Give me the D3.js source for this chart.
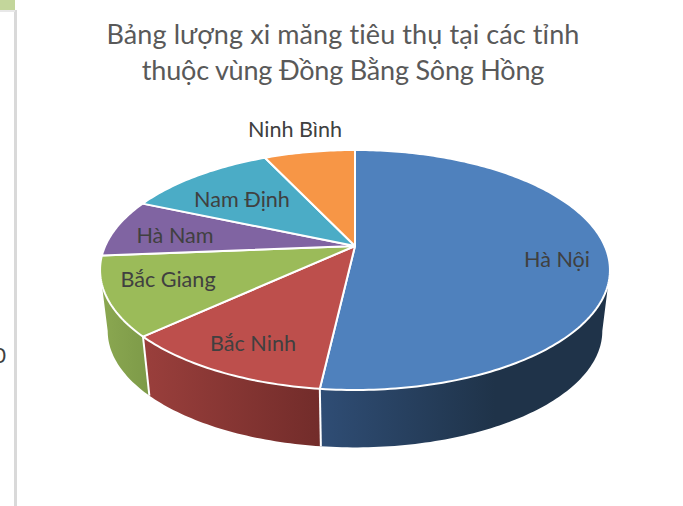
<!DOCTYPE html>
<html lang="vi"><head><meta charset="utf-8">
<script src="https://cdn.jsdelivr.net/npm/d3@7"></script>
<style>html,body{margin:0;padding:0;background:#fff;overflow:hidden}svg{display:block}text{font-family:Lato,"Open Sans","Noto Sans",sans-serif}</style>
</head><body><svg id="c" width="683" height="506"></svg>
<script>
const titleLines = ["Bảng lượng xi măng tiêu thụ tại các tỉnh","thuộc vùng Đồng Bằng Sông Hồng"];
const categories = ["Hà Nội","Bắc Ninh","Bắc Giang","Hà Nam","Nam Định","Ninh Bình"];
const values = [51.8,11.3,10.6,7.8,11.5,7.0];
const topColors = ["#4f81bd","#bd4f4c","#9bbb59","#8064a2","#4bacc6","#f79646"];
const sideFrom = ["#2f4d75","#9a3f3c","#8ba851","#6a5287","#3d8ca2","#c97a39"];
const sideTo = ["#1f3349","#722c2a","#7d9a48","#5a4674","#347a8e","#b06a30"];
const labelSpots = [[557,260],[253,344],[168,280],[175,236],[242,200],[295,130]];
const titleTracking = [0.1,-0.2];

const svg = d3.select("#c");
const cx=355, apexY=246, k=0.2, A=249.8, B=115.2, rimY=270, baseY=331, shrink=0.97;
const sx=d3.scaleLinear().domain([-1,1]).range([cx-A,cx+A]);
const sy=d3.scaleLinear().domain([-1,1]).range([apexY+B,apexY-B]);
// perspective projection of a point on the unit disc
function proj(a,r=1){const u=Math.sin(a)*r,v=Math.cos(a)*r,w=1+k*v;return [sx(u/w),sy(v/w)];}
function base(a){const p=proj(a);return [cx+shrink*(p[0]-cx),baseY+shrink*(p[1]-rimY)];}
const line=d3.line();
const arcs=d3.pie().sort(null).value(d=>d)(values);
const step=Math.PI/180;
function samples(a0,a1){const n=Math.max(2,Math.ceil((a1-a0)/step));return d3.range(n+1).map(i=>a0+(a1-a0)*i/n);}

// surrounding page fragments
svg.append("rect").attr("x",0).attr("y",0).attr("width",15).attr("height",10).attr("fill","#c3d69b");
svg.append("rect").attr("x",14).attr("y",10).attr("width",3).attr("height",496).attr("fill","#d9d9d9");
svg.append("rect").attr("x",0).attr("y",10).attr("width",15).attr("height",2).attr("fill","#e8e8e8");
svg.append("text").attr("x",6).attr("y",363).attr("text-anchor","end").attr("font-size",21.6).attr("fill","#404040").text("0");

// side wall
const defs=svg.append("defs");
const visMin=Math.acos(-k), visMax=2*Math.PI-Math.acos(-k);
arcs.forEach((d,i)=>{
  const a0=Math.max(d.startAngle,visMin),a1=Math.min(d.endAngle,visMax);
  if(a1<=a0) return;
  const pTop=samples(a0,a1).map(a=>proj(a));
  const pBase=samples(a0,a1).map(a=>base(a)).reverse();
  const xs=pTop.concat(pBase).map(p=>p[0]);
  let x1=d3.min(xs),x2=d3.max(xs);
  if(i===0){x2=x1+175;}
  const g=defs.append("linearGradient").attr("id","s"+i).attr("gradientUnits","userSpaceOnUse")
    .attr("x1",x1).attr("x2",x2).attr("y1",0).attr("y2",0);
  g.append("stop").attr("offset",0).attr("stop-color",sideFrom[i]);
  g.append("stop").attr("offset",1).attr("stop-color",sideTo[i]);
  svg.append("path").attr("d",line(pTop.concat(pBase))+"Z").attr("fill",`url(#s${i})`)
    .attr("stroke","none");
});
// separators on the wall
arcs.forEach(d=>{
  const a=d.endAngle;
  if(a>visMin&&a<visMax) svg.append("path").attr("d",line([proj(a),base(a)])).attr("stroke","#fff").attr("stroke-width",2).attr("fill","none");
});
// top face
arcs.forEach((d,i)=>{
  const pts=[proj(0,0)].concat(samples(d.startAngle,d.endAngle).map(a=>proj(a)));
  svg.append("path").attr("d",line(pts)+"Z").attr("fill",topColors[i])
    .attr("stroke","#fff").attr("stroke-width",2).attr("stroke-linejoin","round");
});
// labels
categories.forEach((c,i)=>{
  svg.append("text").attr("x",labelSpots[i][0]).attr("y",labelSpots[i][1]+7).attr("text-anchor","middle")
    .attr("font-size",21.6).attr("fill","#404040").text(c);
});
// title
titleLines.forEach((t,i)=>{
  svg.append("text").attr("x",343).attr("y",44+i*36).attr("text-anchor","middle")
    .attr("font-size",27).attr("letter-spacing",titleTracking[i]).attr("fill","#595959").text(t);
});
</script></body></html>
